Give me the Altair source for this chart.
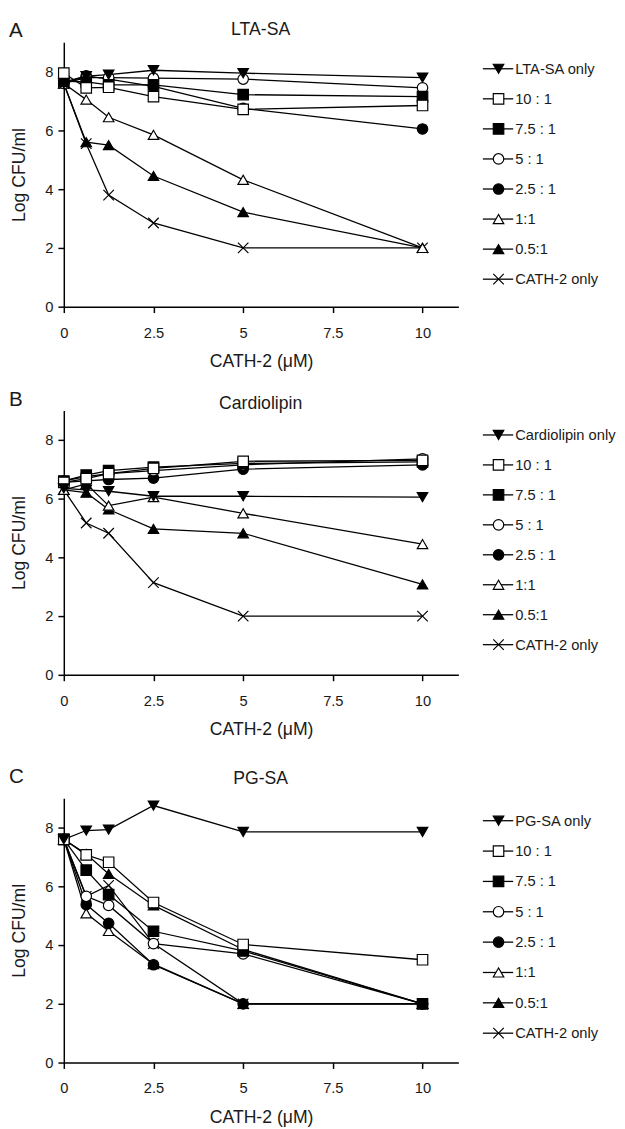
import altair as alt
import pandas as pd

# ---------------- data ----------------
conc = [0, 0.625, 1.25, 2.5, 5, 10]
keys = ["only", "10:1", "7.5:1", "5:1", "2.5:1", "1:1", "0.5:1", "cath"]
letters = ["A", "B", "C"]
titles = ["LTA-SA", "Cardiolipin", "PG-SA"]
only_labels = ["LTA-SA only", "Cardiolipin only", "PG-SA only"]
ratio_labels = ["10 : 1", "7.5 : 1", "5 : 1", "2.5 : 1", "1:1", "0.5:1"]
cath_label = "CATH-2 only"
x_ticks = [0, 2.5, 5, 7.5, 10]
y_ticks = [0, 2, 4, 6, 8]

# Panel A: LTA-SA
a_only = [7.6, 7.85, 7.9, 8.05, 7.95, 7.8]
a_10 = [7.95, 7.45, 7.47, 7.15, 6.72, 6.85]
a_75 = [7.68, 7.65, 7.55, 7.55, 7.22, 7.15]
a_5 = [7.6, 7.8, 7.8, 7.78, 7.75, 7.45]
a_25 = [7.65, 7.86, 7.75, 7.5, 6.75, 6.05]
a_1 = [7.6, 7.05, 6.45, 5.85, 4.32, 2.0]
a_05 = [7.6, 5.6, 5.5, 4.45, 3.22, 2.0]
a_cath = [7.6, 5.55, 3.8, 2.85, 2.0, 2.0]

# Panel B: Cardiolipin
b_only = [6.35, 6.3, 6.25, 6.08, 6.08, 6.05]
b_10 = [6.55, 6.68, 6.85, 7.03, 7.27, 7.3]
b_75 = [6.6, 6.8, 6.95, 7.07, 7.2, 7.25]
b_5 = [6.6, 6.75, 6.85, 6.95, 7.15, 7.35]
b_25 = [6.55, 6.6, 6.65, 6.7, 7.0, 7.15]
b_1 = [6.3, 6.5, 5.76, 6.05, 5.5, 4.45]
b_05 = [6.3, 6.2, 5.63, 4.97, 4.82, 3.08]
b_cath = [6.3, 5.17, 4.82, 3.14, 2.0, 2.0]

# Panel C: PG-SA
c_only = [7.6, 7.9, 7.93, 8.75, 7.85, 7.85]
c_10 = [7.6, 7.07, 6.82, 5.45, 4.02, 3.5]
c_75 = [7.6, 6.55, 5.72, 4.47, 3.8, 2.0]
c_5 = [7.6, 5.66, 5.35, 4.05, 3.7, 2.0]
c_25 = [7.6, 5.38, 4.74, 3.33, 2.0, 2.0]
c_1 = [7.6, 5.08, 4.48, 3.35, 2.0, 2.0]
c_05 = [7.6, 7.1, 6.42, 5.35, 3.85, 2.0]
c_cath = [7.6, 5.66, 6.03, 4.05, 2.0, 2.0]

panel_series = [
    [a_only, a_10, a_75, a_5, a_25, a_1, a_05, a_cath],
    [b_only, b_10, b_75, b_5, b_25, b_1, b_05, b_cath],
    [c_only, c_10, c_75, c_5, c_25, c_1, c_05, c_cath],
]

# ---------------- styles ----------------
shapes = ["triangle-down", "square", "square", "circle", "circle",
          "triangle-up", "triangle-up", "M-1,-1L1,1M-1,1L1,-1"]
fills = ["black", "white", "black", "white", "black", "white", "black", "transparent"]
FONT = "Liberation Sans"
TXT = "#1a1a1a"
W, H = 403, 270
letter_base = [-5, -4.3, -16]
title_base = [-8, -2, -14.4]
legend_first = [27, 25, 23]
legend_step = [30.7, 30.6, 31.0]

shape_enc = alt.Shape("key:N", scale=alt.Scale(domain=keys, range=shapes), legend=None)
fill_enc = alt.Fill("key:N", scale=alt.Scale(domain=keys, range=fills), legend=None)


def panel(i):
    rows = []
    for j, (k, vals) in enumerate(zip(keys, panel_series[i])):
        for c, v in zip(conc, vals):
            rows.append({"conc": c, "cfu": v, "key": k, "ord": j})
    df = pd.DataFrame(rows)

    x = alt.X("conc:Q", scale=alt.Scale(domain=[0, 11], nice=False, zero=False),
              axis=alt.Axis(values=x_ticks, format=".1~f", title="CATH-2 (μM)",
                            labelPadding=13, titlePadding=13))
    y = alt.Y("cfu:Q", scale=alt.Scale(domain=[0, 9], nice=False),
              axis=alt.Axis(values=y_ticks, title="Log CFU/ml", labelPadding=5,
                            titlePadding=17))
    base = alt.Chart(df)
    lines = base.mark_line(color="black", strokeWidth=1.3).encode(
        x=x, y=y, detail="key:N")
    pts = base.mark_point(stroke="black", strokeWidth=1.2, size=115, opacity=1,
                          fillOpacity=1).encode(
        x=x, y=y, shape=shape_enc, fill=fill_enc,
        order=alt.Order("ord:Q", sort="descending"))

    labels = [only_labels[i]] + ratio_labels + [cath_label]
    ldf = pd.DataFrame({"idx": list(range(8)), "key": keys, "label": labels})
    span = H / legend_step[i]
    d0 = -legend_first[i] / legend_step[i]
    ly = alt.Y("idx:Q", scale=alt.Scale(domain=[d0, d0 + span], reverse=True, nice=False,
                                        zero=False), axis=None)
    lb = alt.Chart(ldf)
    lrule = lb.mark_rule(color="black", strokeWidth=1.3).encode(
        x=alt.value(428), x2=alt.value(459), y=ly)
    lpts = lb.mark_point(stroke="black", strokeWidth=1.2, size=115, opacity=1,
                         fillOpacity=1).encode(
        x=alt.value(444), y=ly, shape=shape_enc, fill=fill_enc)
    ltext = lb.mark_text(align="left", baseline="middle", fontSize=15, font=FONT,
                         color=TXT).encode(
        x=alt.value(461), y=ly, text="label:N")

    tdf = pd.DataFrame({"letter": [letters[i]], "title": [titles[i]]})
    tb = alt.Chart(tdf)
    let = tb.mark_text(align="left", baseline="alphabetic", fontSize=21, font=FONT,
                       color=TXT).encode(
        x=alt.value(-56), y=alt.value(letter_base[i]), text="letter:N")
    ttl = tb.mark_text(align="center", baseline="alphabetic", fontSize=18, font=FONT,
                       color=TXT).encode(
        x=alt.value(201), y=alt.value(title_base[i]), text="title:N")

    return alt.layer(
        alt.layer(lines, pts),
        alt.layer(lrule, lpts, ltext),
        let, ttl,
    ).resolve_scale(y="independent").properties(width=W, height=H)


chart = alt.vconcat(
    panel(0),
    alt.vconcat(panel(1), panel(2), spacing=26),
    spacing=18,
).properties(
    padding=0
).configure(font=FONT).configure_view(stroke="transparent").configure_axis(
    domainColor="black", domainWidth=1.5, tickColor="black", tickWidth=1.5,
    tickSize=6, labelFontSize=15, labelColor=TXT, labelFont=FONT,
    titleFontSize=18, titleFontWeight="normal", titleColor=TXT, titleFont=FONT,
    grid=False, labelFlush=False,
)

chart.save("out.html", embed_options={"renderer": "svg", "actions": False})
